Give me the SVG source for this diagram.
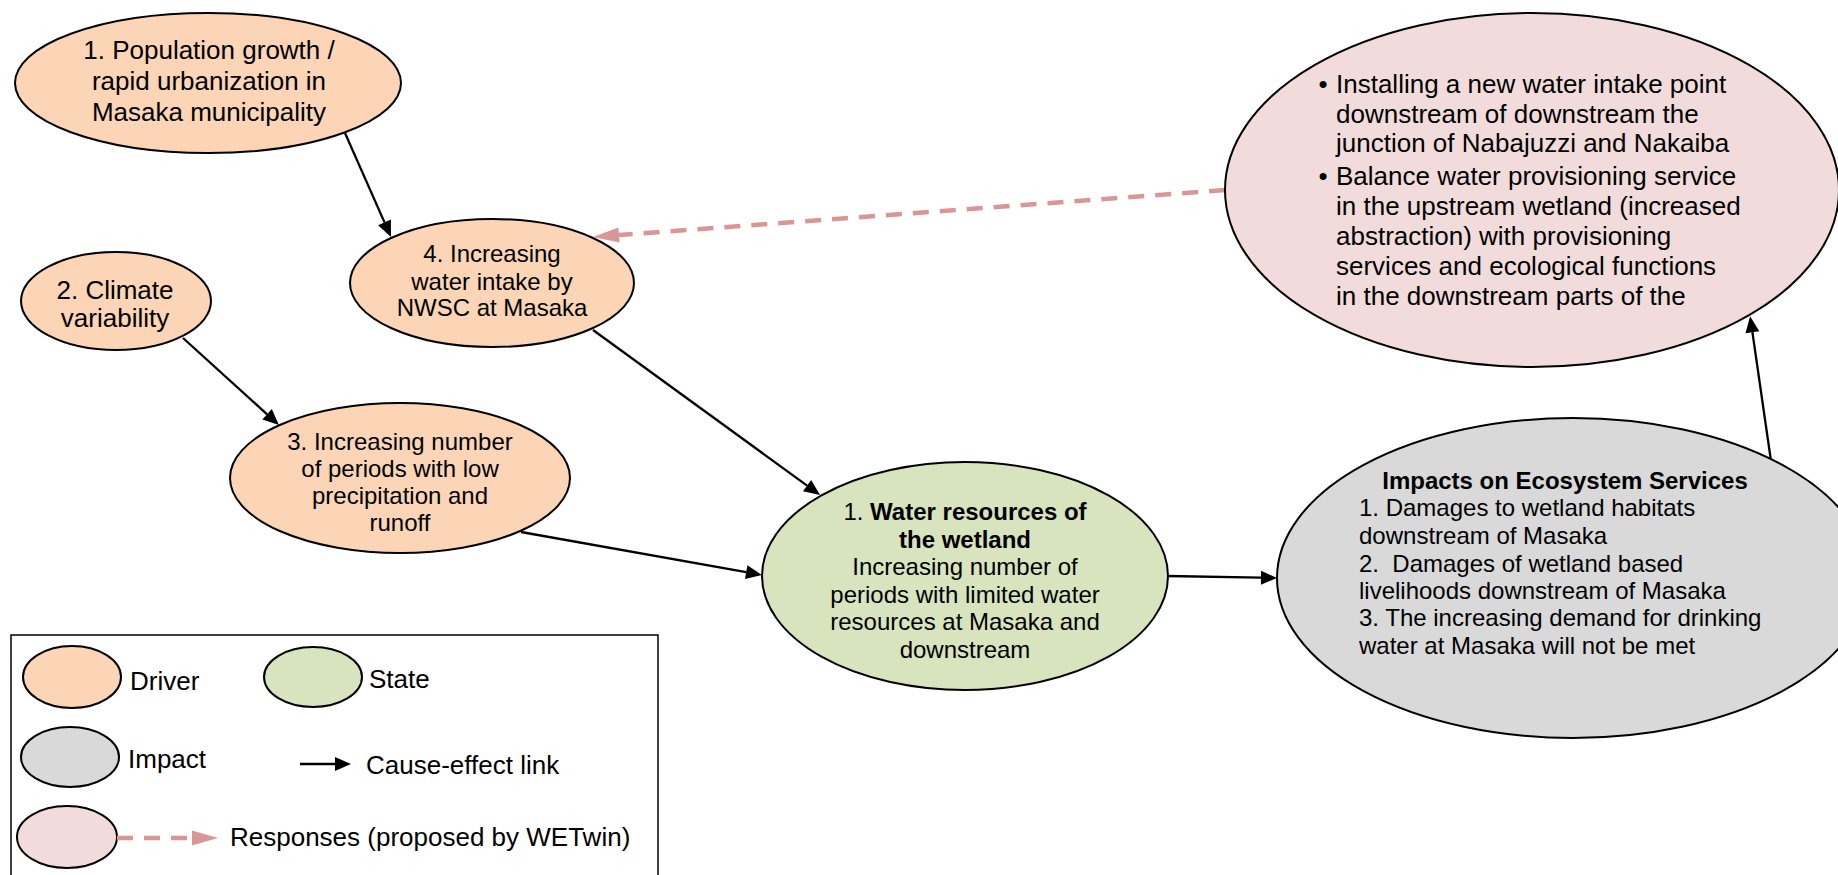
<svg xmlns="http://www.w3.org/2000/svg" width="1838" height="875" viewBox="0 0 1838 875">
<style>
text{font-family:"Liberation Sans",Arial,sans-serif;fill:#000}
.t26{font-size:26px}
.t24{font-size:24px}
.c{text-anchor:middle}
.b{font-weight:bold}
.drv{fill:#FBD5B5;stroke:#000;stroke-width:2}
.sta{fill:#D7E4BD;stroke:#000;stroke-width:2}
.imp{fill:#D9D9D9;stroke:#000;stroke-width:2}
.rsp{fill:#F2DCDB;stroke:#000;stroke-width:2}
.link{stroke:#000;stroke-width:2.3;fill:none}
.resp{stroke:#D99694;stroke-width:4.5;stroke-dasharray:16 11;fill:none}
</style>
<defs>
<marker id="ah" markerUnits="userSpaceOnUse" markerWidth="16" markerHeight="14" refX="0" refY="7" orient="auto" overflow="visible">
<path d="M0,0 L16,7 L0,14 z" fill="#000"/>
</marker>
<marker id="ahp" markerUnits="userSpaceOnUse" markerWidth="26" markerHeight="15" refX="0" refY="7.5" orient="auto" overflow="visible">
<path d="M0,0 L26,7.5 L0,15 z" fill="#D99694"/>
</marker>
</defs>

<g id="connectors">
<line class="link" x1="345" y1="133" x2="384.5" y2="222.4" marker-end="url(#ah)"/>
<line class="link" x1="183" y1="338" x2="267.1" y2="414.3" marker-end="url(#ah)"/>
<line class="link" x1="593" y1="330" x2="807.1" y2="485.6" marker-end="url(#ah)"/>
<line class="link" x1="521" y1="532" x2="746.2" y2="572.2" marker-end="url(#ah)"/>
<line class="link" x1="1167" y1="576" x2="1261" y2="577.7" marker-end="url(#ah)"/>
<line class="link" x1="1771" y1="461" x2="1752.4" y2="332.2" marker-end="url(#ah)"/>
<line class="resp" x1="1225" y1="190" x2="619" y2="235.1" marker-end="url(#ahp)"/>
</g>

<g id="driver1">
<ellipse class="drv" cx="208" cy="83" rx="193" ry="70"/>
<text class="t26 c" x="209" y="58.5">1. Population growth /</text>
<text class="t26 c" x="209" y="89.5">rapid urbanization in</text>
<text class="t26 c" x="209" y="120.5">Masaka municipality</text>
</g>

<g id="driver2">
<ellipse class="drv" cx="116" cy="301" rx="95" ry="49"/>
<text class="t26 c" x="115" y="298.5">2. Climate</text>
<text class="t26 c" x="115" y="326.5">variability</text>
</g>

<g id="driver4">
<ellipse class="drv" cx="492" cy="283" rx="142" ry="64"/>
<text class="t24 c" x="492" y="262">4. Increasing</text>
<text class="t24 c" x="492" y="289.5">water intake by</text>
<text class="t24 c" x="492" y="316">NWSC at Masaka</text>
</g>

<g id="driver3">
<ellipse class="drv" cx="400" cy="478" rx="170" ry="75"/>
<text class="t24 c" x="400" y="450">3. Increasing number</text>
<text class="t24 c" x="400" y="476.5">of periods with low</text>
<text class="t24 c" x="400" y="503.5">precipitation and</text>
<text class="t24 c" x="400" y="530.5">runoff</text>
</g>

<g id="state">
<ellipse class="sta" cx="965" cy="576" rx="203" ry="114"/>
<text class="t24 c" x="965" y="520">1. <tspan class="b">Water resources of</tspan></text>
<text class="t24 c b" x="965" y="547.5">the wetland</text>
<text class="t24 c" x="965" y="575">Increasing number of</text>
<text class="t24 c" x="965" y="602.5">periods with limited water</text>
<text class="t24 c" x="965" y="630">resources at Masaka and</text>
<text class="t24 c" x="965" y="657.5">downstream</text>
</g>

<g id="impact">
<ellipse class="imp" cx="1573" cy="578" rx="296" ry="160"/>
<text class="t24 c b" x="1565" y="488.5">Impacts on Ecosystem Services</text>
<text class="t24" x="1359" y="516">1. Damages to wetland habitats</text>
<text class="t24" x="1359" y="543.5">downstream of Masaka</text>
<text class="t24" x="1359" y="571.5" xml:space="preserve">2.  Damages of wetland based</text>
<text class="t24" x="1359" y="599">livelihoods downstream of Masaka</text>
<text class="t24" x="1359" y="626">3. The increasing demand for drinking</text>
<text class="t24" x="1359" y="653.5">water at Masaka will not be met</text>
</g>

<g id="response">
<ellipse class="rsp" cx="1532" cy="190" rx="307" ry="177"/>
<text class="t26 c" x="1323" y="93">•</text>
<text class="t26" x="1336" y="93">Installing a new water intake point</text>
<text class="t26" x="1336" y="122.5">downstream of downstream the</text>
<text class="t26" x="1336" y="152">junction of Nabajuzzi and Nakaiba</text>
<text class="t26 c" x="1323" y="185">•</text>
<text class="t26" x="1336" y="185">Balance water provisioning service</text>
<text class="t26" x="1336" y="215">in the upstream wetland (increased</text>
<text class="t26" x="1336" y="245">abstraction) with provisioning</text>
<text class="t26" x="1336" y="275">services and ecological functions</text>
<text class="t26" x="1336" y="305">in the downstream parts of the</text>
</g>

<g id="legend">
<rect x="11" y="635" width="647" height="250" fill="#fff" stroke="#000" stroke-width="1.5"/>
<ellipse class="drv" cx="72" cy="677" rx="49" ry="31"/>
<text class="t26" x="130" y="690">Driver</text>
<ellipse class="sta" cx="313" cy="677" rx="49" ry="30"/>
<text class="t26" x="369" y="688">State</text>
<ellipse class="imp" cx="70" cy="757" rx="49" ry="30"/>
<text class="t26" x="128" y="768">Impact</text>
<line class="link" x1="300" y1="764" x2="335" y2="764" marker-end="url(#ah)"/>
<text class="t26" x="366" y="773.5">Cause-effect link</text>
<ellipse class="rsp" cx="67" cy="837" rx="50" ry="31"/>
<line class="resp" x1="117" y1="838" x2="192" y2="838" marker-end="url(#ahp)"/>
<text class="t26" x="230" y="846">Responses (proposed by WETwin)</text>
</g>
</svg>
